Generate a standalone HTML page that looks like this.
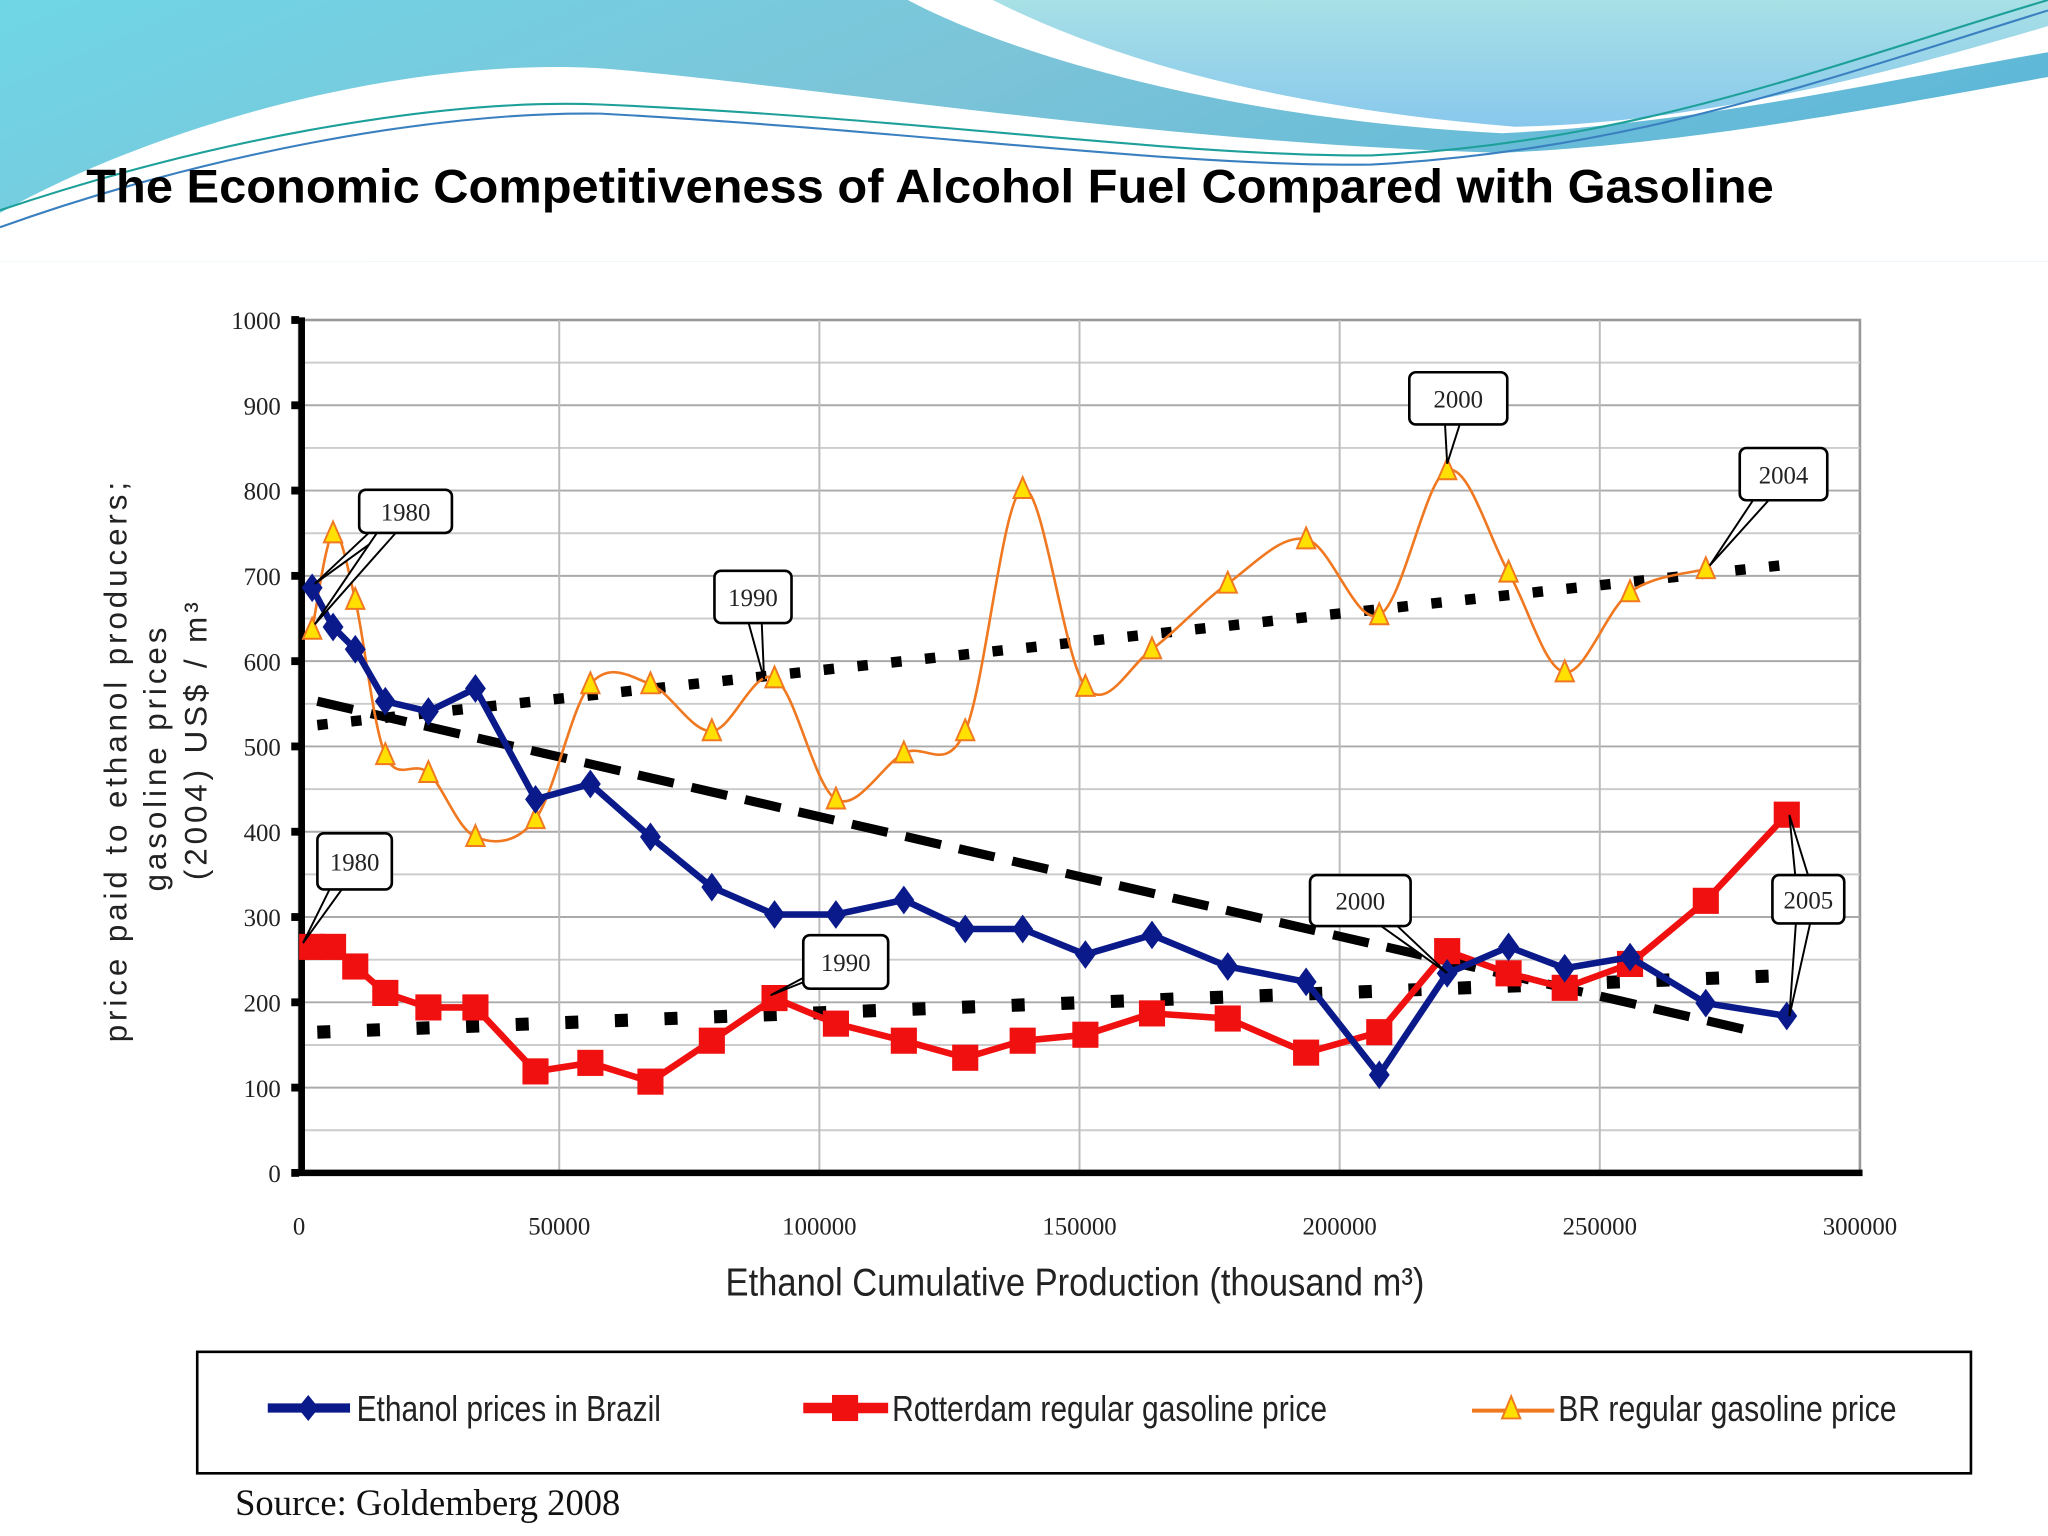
<!DOCTYPE html>
<html><head><meta charset="utf-8"><style>
html,body{margin:0;padding:0;background:#fff;}
svg{display:block;}
text{font-family:"Liberation Sans",sans-serif;}
.tick{font-family:"Liberation Serif",serif;font-size:19px;fill:#222;}
</style></head><body>
<svg id="chart" width="2048" height="1536" viewBox="0 0 1568 1176" xmlns="http://www.w3.org/2000/svg">
<defs>
<linearGradient id="bg1" x1="0" y1="0" x2="1" y2="0.3"><stop offset="0" stop-color="#6fd6e6"/><stop offset="0.5" stop-color="#7cc4d8"/><stop offset="1" stop-color="#5fb8d8"/></linearGradient>
<linearGradient id="bg2" x1="0" y1="0" x2="0" y2="1"><stop offset="0" stop-color="#a8e0e6"/><stop offset="1" stop-color="#88c8ec"/></linearGradient>
</defs>
<g>
<rect x="0" y="0" width="1568" height="200" fill="url(#bg1)"/>
<path d="M695,0 C780,45 950,92 1150,102 C1300,95 1450,60 1568,40 L1568,0 Z" fill="#fff"/>
<path d="M760,0 C830,35 950,80 1160,97 C1300,95 1450,55 1568,20 L1568,0 Z" fill="url(#bg2)"/>
<path d="M0,163 C150,80 350,40 480,54 C650,70 900,110 1150,117 C1300,110 1450,80 1568,59 L1568,200 L0,200 Z" fill="#fff"/>
<path d="M0,161 C150,110 330,75 460,80 C700,90 900,120 1050,119 C1250,110 1400,50 1568,0" fill="none" stroke="#1ea09a" stroke-width="1.6"/>
<path d="M0,174 C150,120 330,85 460,87 C700,100 900,128 1050,126 C1250,115 1400,60 1568,8" fill="none" stroke="#3a80c0" stroke-width="1.6"/>
</g>
<text x="66" y="155" font-size="36" font-weight="bold" textLength="1292" lengthAdjust="spacingAndGlyphs" fill="#000">The Economic Competitiveness of Alcohol Fuel Compared with Gasoline</text>
<g id="plot"></g>
<g font-size="24" fill="#222" letter-spacing="3">
<text transform="translate(97,582) rotate(-90)" text-anchor="middle">price paid to ethanol producers;</text>
<text transform="translate(127,580) rotate(-90)" text-anchor="middle">gasoline prices</text>
<text transform="translate(158,566) rotate(-90)" text-anchor="middle">(2004) US$ / m³</text>
</g>
<text x="823" y="992" font-size="30" text-anchor="middle" textLength="535" lengthAdjust="spacingAndGlyphs" fill="#222">Ethanol Cumulative Production (thousand m³)</text>
<g>
<rect x="151" y="1035" width="1358" height="93" fill="#fff" stroke="#000" stroke-width="2"/>
<g><line x1="205" y1="1078" x2="268" y2="1078" stroke="#0a1a8a" stroke-width="7"/><path d="M236,1068 L244,1078 L236,1088 L228,1078Z" fill="#0a1a8a"/><text x="273" y="1088" font-size="28" textLength="233" lengthAdjust="spacingAndGlyphs" fill="#222">Ethanol prices in Brazil</text></g>
<g><line x1="615" y1="1078" x2="680" y2="1078" stroke="#f01010" stroke-width="8"/><rect x="637" y="1068" width="20" height="20" fill="#f01010"/><text x="683" y="1088" font-size="28" textLength="333" lengthAdjust="spacingAndGlyphs" fill="#222">Rotterdam regular gasoline price</text></g>
<g><line x1="1127" y1="1080" x2="1190" y2="1080" stroke="#f07820" stroke-width="3"/><path d="M1157,1069 L1164,1086 L1150,1086Z" fill="#ffe000" stroke="#f07820" stroke-width="1.5"/><text x="1193" y="1088" font-size="28" textLength="259" lengthAdjust="spacingAndGlyphs" fill="#222">BR regular gasoline price</text></g>
</g>
<text x="180" y="1160" font-size="28" style="font-family:'Liberation Serif',serif" fill="#111">Source: Goldemberg 2008</text>
</svg>
<script>
const xs=[2510,6527,10795,16569,24854,33891,45439,55983,67531,79330,91381,103180,116234,128033,139079,151130,163933,178494,193557,207615,220669,232469,243264,255816,270377,285941];
const ethanol=[686,640,614,553,541,568,438,456,394,335,303,303,320,286,286,256,279,242,224,115,234,265,240,253,199,184];
const rotterdam=[265,265,242,211,194,194,119,129,107,155,205,175,155,135,155,162,187,181,141,165,260,234,217,245,319,420];
const brGas=[637,750,672,490,469,394,415,573,573,518,580,438,492,518,802,570,614,691,743,654,824,704,587,681,708];
const yTicks=[0,100,200,300,400,500,600,700,800,900,1000];
const xTicks=[0,50000,100000,150000,200000,250000,300000];
const trendUpper=[[3500,525],[285941,713]];
const trendEthanol=[[3500,553],[278000,168]];
const trendLower=[[3500,165],[283500,231]];
const X=v=>229+v/300000*1195, Y=v=>898-v*0.653;
const NS="http://www.w3.org/2000/svg", g=document.getElementById('plot');
function mk(t,a,p){const e=document.createElementNS(NS,t);for(const k in a)e.setAttribute(k,a[k]);(p||g).appendChild(e);return e;}
mk('rect',{x:229,y:245,width:1195,height:653,fill:'#fff',stroke:'#999','stroke-width':2});
for(let v=50;v<1000;v+=50){const l=mk('line',{x1:229,x2:1424,y1:Y(v),y2:Y(v),stroke:v%100?'#ccc':'#aaa','stroke-width':1.5});

}
xTicks.forEach(v=>{if(v>0&&v<300000){const l=mk('line',{x1:X(v),x2:X(v),y1:245,y2:898,stroke:'#bbb','stroke-width':1.5});

}
const t=mk('text',{x:X(v),y:945,'text-anchor':'middle',class:'tick'});t.textContent=v;

});
yTicks.forEach(v=>{const t=mk('text',{x:215,y:Y(v)+7,'text-anchor':'end',class:'tick'});t.textContent=v;


mk('rect',{x:223,y:Y(v)-3,width:6,height:6,fill:'#000'});});
mk('line',{x1:231,y1:243,x2:231,y2:900,stroke:'#000','stroke-width':5});
mk('line',{x1:229,y1:898,x2:1426,y2:898,stroke:'#000','stroke-width':5});
function trend(pts,name,dash,w){const l=mk('line',{x1:X(pts[0][0]),y1:Y(pts[0][1]),x2:X(pts[1][0]),y2:Y(pts[1][1]),stroke:'#000','stroke-width':w,'stroke-dasharray':dash});

}
trend(trendUpper,'trend-br-gasoline','8 18',8);
trend(trendEthanol,'trend-ethanol','28 14',7);
trend(trendLower,'trend-rotterdam','10 28',10);
const op=brGas.map((v,i)=>[X(xs[i]),Y(v)]);let d='M'+op[0];
for(let i=0;i<op.length-1;i++){const p0=op[i-1]||op[i],p1=op[i],p2=op[i+1],p3=op[i+2]||p2;
d+=` C${p1[0]+(p2[0]-p0[0])/6},${p1[1]+(p2[1]-p0[1])/6} ${p2[0]-(p3[0]-p1[0])/6},${p2[1]-(p3[1]-p1[1])/6} ${p2[0]},${p2[1]}`;}
const ol=mk('path',{d,fill:'none',stroke:'#f07820','stroke-width':2});


op.forEach(p=>{const m=mk('path',{d:`M${p[0]},${p[1]-9} L${p[0]+7},${p[1]+7} L${p[0]-7},${p[1]+7}Z`,fill:'#ffe000',stroke:'#f07820','stroke-width':1.5});

});
const rp=rotterdam.map((v,i)=>[X(xs[i]),Y(v)]);
const rl=mk('polyline',{points:rp.join(' '),fill:'none',stroke:'#f01010','stroke-width':5});


rp.forEach(p=>{const m=mk('rect',{x:p[0]-10,y:p[1]-10,width:20,height:20,fill:'#f01010'});

});
const ep=ethanol.map((v,i)=>[X(xs[i]),Y(v)]);
const el=mk('polyline',{points:ep.join(' '),fill:'none',stroke:'#0a1a8a','stroke-width':5});


ep.forEach(p=>{const m=mk('path',{d:`M${p[0]},${p[1]-11} L${p[0]+8},${p[1]} L${p[0]},${p[1]+11} L${p[0]-8},${p[1]}Z`,fill:'#0a1a8a'});

});
function callout(x,y,w,h,label,targets){
targets.forEach(t=>{mk('path',{d:`M${x+w*0.35},${y+h/2} L${t[0]},${t[1]} L${x+w*0.6},${y+h/2}`,fill:'#fff',stroke:'#000','stroke-width':1.5});});
const r=mk('rect',{x,y,width:w,height:h,rx:5,fill:'#fff',stroke:'#000','stroke-width':2});


const t=mk('text',{x:x+w/2,y:y+h/2+7,'text-anchor':'middle',class:'tick'});t.textContent=label;

}
callout(275,375,71,33,'1980',[[241,447],[241,478]]);
callout(547,437,59,40,'1990',[[585,520]]);
callout(1079,285,75,40,'2000',[[1108,355]]);
callout(1332,343,67,40,'2004',[[1309,433]]);
callout(243,638,57,43,'1980',[[232,722]]);
callout(615,716,65,41,'1990',[[590,762]]);
callout(1003,670,77,39,'2000',[[1108,745]]);
callout(1357,670,55,37,'2005',[[1370,624],[1370,778]]);
</script>
</body></html>
